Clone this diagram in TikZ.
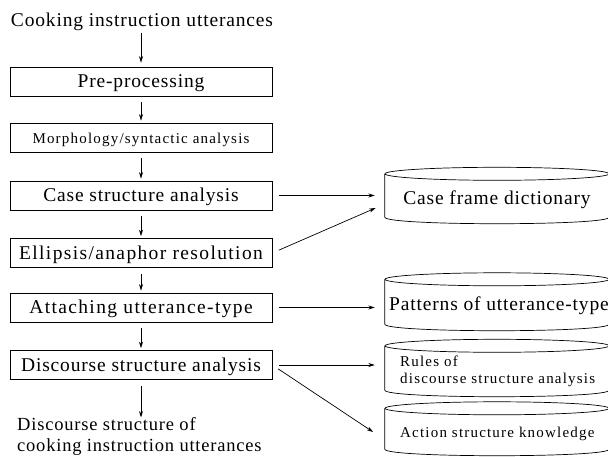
\documentclass[tikz,border=0pt]{standalone}
\usepackage{fontspec}
\setmainfont{Liberation Serif}
\newfontfamily\bigfont[LetterSpace=4.3]{Liberation Serif}
\newfontfamily\widefont[LetterSpace=7.0]{Liberation Serif}
\newfontfamily\smallfont[LetterSpace=8]{Liberation Serif}
\usetikzlibrary{arrows.meta,calc}
\tikzset{
  big/.style={font=\bigfont\fontsize{19.5}{22}\selectfont},
  wide/.style={font=\widefont\fontsize{19.5}{22}\selectfont},
  small/.style={font=\smallfont\fontsize{15}{18}\selectfont},
  txt/.style={inner sep=0pt, text height=16.5pt, text depth=4pt},
  procbox/.style={txt, draw, line width=0.7pt, minimum width=262pt, minimum height=29pt},
  cylbody/.style={inner sep=0pt, minimum width=224pt},
  arr/.style={-{Stealth[length=6.5pt,width=4pt]}, line width=0.7pt},
  cylline/.style={line width=0.7pt},
}
\newcommand\mycyl[1]{%
  \draw[cylline] (#1.north west) -- (#1.south west)
    .. controls ($(#1.south west)+(0,8.7)$) and ($(#1.south east)+(0,8.7)$) .. (#1.south east)
    -- (#1.north east);
  \draw[cylline] (#1.north) ellipse [x radius=112pt, y radius=6.5pt];}
\begin{document}
\begin{tikzpicture}[x=1pt,y=-1pt]
\useasboundingbox (0,0) rectangle (608,457);
\fill[white] (0,0) rectangle (608,457);
\clip (0,0) rectangle (608,457);
% process column
\node[txt,big,anchor=base] (in) at (142,26.5) {Cooking instruction utterances};
\node[procbox,big] (pre) at (141,81.5) {Pre-processing};
\node[procbox,small] (mor) at (141,137.5) {Morphology/syntactic analysis};
\node[procbox,big] (cas) at (141,195.5) {Case structure analysis};
\node[procbox,wide] (ell) at (141,253) {Ellipsis/anaphor resolution};
\node[procbox,wide] (att) at (141,307.5) {Attaching utterance-type};
\node[procbox,big] (dis) at (141,365) {Discourse structure analysis};
\node[inner sep=0pt, font=\bigfont\fontsize{18.5}{20.5}\selectfont, align=left, anchor=north west] (out) at (17,417.5)
  {Discourse structure of\\cooking instruction utterances};
% knowledge bases
\node[cylbody, minimum height=43pt] (cfd) at (497,195.5) {};
\node[cylbody, minimum height=44.5pt] (pat) at (497,301.75) {};
\node[cylbody, minimum height=44pt] (rul) at (497,368) {};
\node[cylbody, minimum height=40.5pt] (act) at (497,428.75) {};
\mycyl{cfd}
\mycyl{pat}
\mycyl{rul}
\mycyl{act}
\node[txt,big,anchor=base] (cfdt) at (497,205) {Case frame dictionary};
\node[txt,big,anchor=base west] (patt) at (389,310) {Patterns of utterance-type};
\node[txt,small,anchor=base west] (rult1) at (400,366) {Rules of};
\node[txt,small,anchor=base west] (rult2) at (400,383) {discourse structure analysis};
\node[txt,small,anchor=base west] (actt) at (400,437) {Action structure knowledge};
% vertical flow
\draw[arr, shorten <=2pt, shorten >=4pt] (pre.north |- in.south) -- (pre.north);
\draw[arr, shorten <=6pt, shorten >=2pt] (pre) -- (mor);
\draw[arr, shorten <=6pt, shorten >=2pt] (mor) -- (cas);
\draw[arr, shorten <=6pt, shorten >=2pt] (cas) -- (ell);
\draw[arr, shorten <=6pt, shorten >=2pt] (ell) -- (att);
\draw[arr, shorten <=6pt, shorten >=2pt] (att) -- (dis);
\draw[arr, shorten <=6pt, shorten >=0pt] (dis) -- (dis.south |- out.north);
% knowledge links
\draw[arr, shorten <=7pt, shorten >=10pt] (cas.east) -- (cas.east -| cfd.west);
\draw[arr, shorten <=7pt, shorten >=10pt] (ell.east) -- ($(cfd.west)+(0,8.5)$);
\draw[arr, shorten <=7pt, shorten >=10pt] (att.east) -- (att.east -| pat.west);
\draw[arr, shorten <=7pt, shorten >=10pt] (dis.east) -- (dis.east -| rul.west);
\draw[arr, shorten <=7pt, shorten >=14pt] (dis.east) -- ($(act.west)+(0,11)$);
\end{tikzpicture}
\end{document}
